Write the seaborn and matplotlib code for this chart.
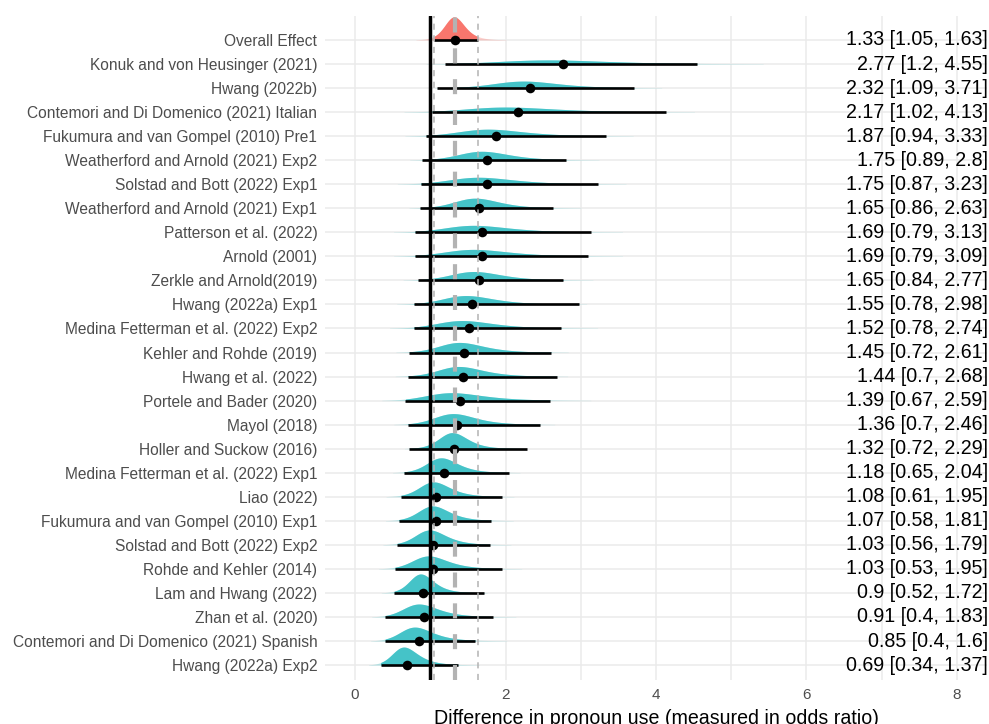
import math
import numpy as np
import pandas as pd
import matplotlib
matplotlib.use("Agg")
import matplotlib.pyplot as plt
import matplotlib.transforms as mtransforms
import seaborn as sns

# Study estimates (odds ratio) with 95% intervals, top to bottom
studies = [
    "Overall Effect",
    "Konuk and von Heusinger (2021)",
    "Hwang (2022b)",
    "Contemori and Di Domenico (2021) Italian",
    "Fukumura and van Gompel (2010) Pre1",
    "Weatherford and Arnold (2021) Exp2",
    "Solstad and Bott (2022) Exp1",
    "Weatherford and Arnold (2021) Exp1",
    "Patterson et al. (2022)",
    "Arnold (2001)",
    "Zerkle and Arnold(2019)",
    "Hwang (2022a) Exp1",
    "Medina Fetterman et al. (2022) Exp2",
    "Kehler and Rohde (2019)",
    "Hwang et al. (2022)",
    "Portele and Bader (2020)",
    "Mayol (2018)",
    "Holler and Suckow (2016)",
    "Medina Fetterman et al. (2022) Exp1",
    "Liao (2022)",
    "Fukumura and van Gompel (2010) Exp1",
    "Solstad and Bott (2022) Exp2",
    "Rohde and Kehler (2014)",
    "Lam and Hwang (2022)",
    "Zhan et al. (2020)",
    "Contemori and Di Domenico (2021) Spanish",
    "Hwang (2022a) Exp2",
]
estimate = [1.33, 2.77, 2.32, 2.17, 1.87, 1.75, 1.75, 1.65, 1.69, 1.69, 1.65, 1.55, 1.52,
            1.45, 1.44, 1.39, 1.36, 1.32, 1.18, 1.08, 1.07, 1.03, 1.03, 0.9, 0.91, 0.85, 0.69]
ci_low = [1.05, 1.2, 1.09, 1.02, 0.94, 0.89, 0.87, 0.86, 0.79, 0.79, 0.84, 0.78, 0.78,
          0.72, 0.7, 0.67, 0.7, 0.72, 0.65, 0.61, 0.58, 0.56, 0.53, 0.52, 0.4, 0.4, 0.34]
ci_high = [1.63, 4.55, 3.71, 4.13, 3.33, 2.8, 3.23, 2.63, 3.13, 3.09, 2.77, 2.98, 2.74,
           2.61, 2.68, 2.59, 2.46, 2.29, 2.04, 1.95, 1.81, 1.79, 1.95, 1.72, 1.83, 1.6, 1.37]
# Peak height of each posterior density (in rows)
density_peak = [0.96, 0.17, 0.29, 0.21, 0.29, 0.37, 0.29, 0.42, 0.29, 0.29, 0.37, 0.37, 0.33,
                0.42, 0.42, 0.33, 0.46, 0.67, 0.62, 0.62, 0.62, 0.62, 0.54, 0.79, 0.54, 0.58, 0.75]
x_ticks = [0, 2, 4, 6, 8]

df = pd.DataFrame({"study": studies, "estimate": estimate,
                   "low": ci_low, "high": ci_high, "peak": density_peak})
df["row"] = np.arange(len(df))

sns.set_theme(style="white")
plt.rcParams["font.family"] = ["Liberation Sans", "DejaVu Sans"]

fig = plt.figure(figsize=(9.89, 7.24), dpi=100)
ax = fig.add_axes([0.3286, 0.0608, 0.6694, 0.9172])

grid_col = "#EBEBEB"
for gx in range(0, 9):
    ax.axvline(gx, color=grid_col, lw=1.1, zorder=0)
for r in df["row"]:
    ax.axhline(r, color=grid_col, lw=1.1, zorder=0)

teal = "#45C3C8"
salmon = "#F8766D"
scale = 0.355  # rows per unit of density
nu = 5.0
t_const = math.gamma((nu + 1) / 2) / (math.sqrt(nu * math.pi) * math.gamma(nu / 2))


def log_t_pdf(x, mu, s):
    z = (np.log(x) - mu) / s
    return t_const * (1 + z ** 2 / nu) ** (-(nu + 1) / 2) / (s * x)


for _, d in df.iterrows():
    mu = np.log(d["estimate"])
    # central part of the curve, used to fit the peak height
    core = np.linspace(d["estimate"] / 2.5, d["estimate"] * 1.6, 1500)
    lo_s, hi_s = 0.01, 1.5
    for _ in range(60):
        s = 0.5 * (lo_s + hi_s)
        if log_t_pdf(core, mu, s).max() * scale > d["peak"]:
            lo_s = s
        else:
            hi_s = s
    xs = np.exp(np.linspace(mu - 5 * s, mu + 5 * s, 2000))
    h = log_t_pdf(xs, mu, s) * scale
    m = h > 0.01
    xs, h = xs[m], h[m]
    col = salmon if d["row"] == 0 else teal
    inner = (xs >= d["low"]) & (xs <= d["high"])
    ax.fill_between(xs, d["row"], d["row"] - h, color=col, alpha=0.35, lw=0, zorder=2)
    ax.fill_between(xs[inner], d["row"], d["row"] - h[inner], color=col, lw=0, zorder=2.1)

# 95% intervals and point estimates
ax.hlines(df["row"], df["low"], df["high"], color="black", lw=1.9, zorder=3)
sns.scatterplot(data=df, x="estimate", y="row", color="black", s=48,
                edgecolor="black", linewidth=0, zorder=4, ax=ax, legend=False)

# Pooled estimate and its interval as reference lines
ax.axvline(estimate[0], color="#B3B3B3", lw=3.0, linestyle=(0, (3.6, 3.8)), zorder=5)
ax.axvline(ci_low[0], color="#B3B3B3", lw=1.1, linestyle=(0, (4.0, 3.6)), zorder=5)
ax.axvline(ci_high[0], color="#B3B3B3", lw=1.1, linestyle=(0, (4.0, 3.6)), zorder=5)
ax.axvline(1, color="black", lw=2.5, zorder=6)

# Value labels at the right edge
trans = mtransforms.blended_transform_factory(ax.transAxes, ax.transData)
for _, d in df.iterrows():
    ax.text(1.0015, d["row"], f"{d['estimate']:g} [{d['low']:g}, {d['high']:g}]",
            transform=trans, ha="right", va="center", fontsize=14.1,
            color="black", clip_on=False, zorder=7)

ax.set_xlim(-0.4, 8.4)
ax.set_ylim(len(df) - 1 + 0.62, -1.0)
ax.set_xticks(x_ticks)
ax.set_xticklabels([str(t) for t in x_ticks])
ax.set_yticks(df["row"])
ax.set_yticklabels(df["study"])
ax.tick_params(axis="both", length=0, labelcolor="#4D4D4D")
ax.tick_params(axis="y", pad=5.5, labelsize=11.2)
ax.tick_params(axis="x", pad=6, labelsize=11)
ax.set_xlabel("Difference in pronoun use (measured in odds ratio)", fontsize=14.1,
              color="black", labelpad=5)
ax.set_ylabel("")
for s_ in ax.spines.values():
    s_.set_visible(False)
ax.grid(False)

fig.savefig("out.png", dpi=100)
